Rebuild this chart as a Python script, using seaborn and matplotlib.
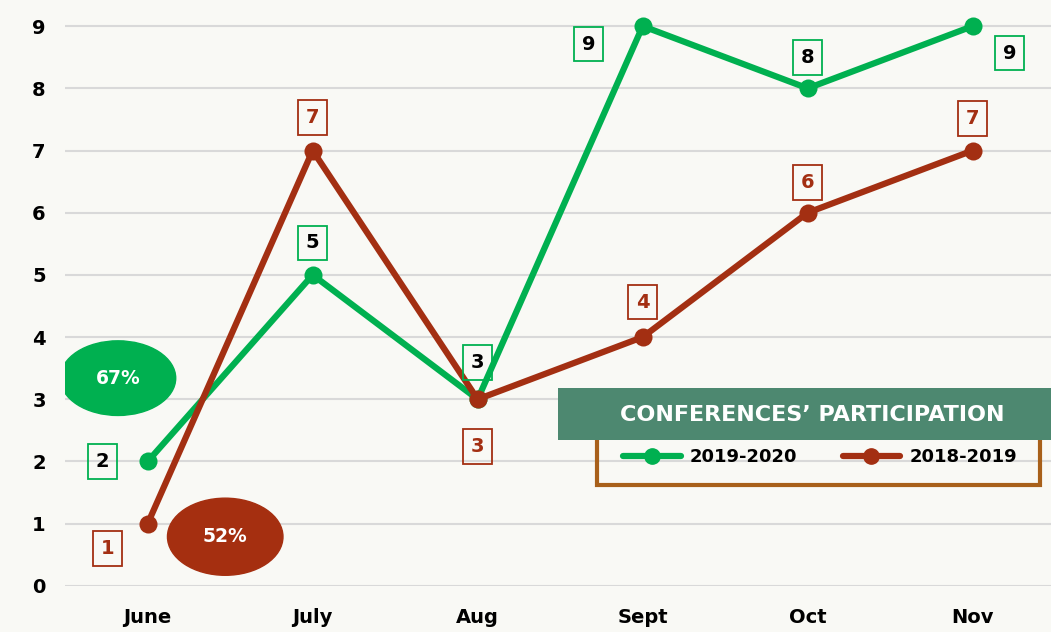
import pandas as pd
import matplotlib.pyplot as plt
from matplotlib.patches import Ellipse, Rectangle
import seaborn as sns

months = ["June", "July", "Aug", "Sept", "Oct", "Nov"]
season_new = [2, 5, 3, 9, 8, 9]   # 2019-2020
season_old = [1, 7, 3, 4, 6, 7]   # 2018-2019
labels = ["2019-2020", "2018-2019"]
pct_new = "67%"
pct_old = "52%"

green = "#00b050"
brown = "#a32f12"
band = "#4d8870"
frame = "#a8601a"
bg = "#f9f9f5"

df = pd.DataFrame({
    "month": months * 2,
    "count": season_new + season_old,
    "season": [labels[0]] * len(months) + [labels[1]] * len(months),
})

sns.set_theme(style="white")
plt.rcParams["font.family"] = ["DejaVu Sans"]

fig = plt.figure(figsize=(10.51, 6.32), dpi=100, facecolor=bg)
ax = fig.add_axes([0.062, 0.073, 0.942, 0.925])
ax.set_facecolor(bg)

sns.lineplot(data=df, x="month", y="count", hue="season", hue_order=labels,
             palette=[green, brown], marker="o", markersize=13,
             markeredgewidth=0, linewidth=4.5, sort=False, ax=ax)

ax.set_xlim(-0.5, 5.5)
ax.set_ylim(0, 9.4)
ax.set_yticks(range(0, 10))
ax.yaxis.grid(True, color="#d9d9d9", linewidth=1.5)
ax.set_axisbelow(True)
for s in ax.spines.values():
    s.set_visible(False)
ax.tick_params(length=0, labelsize=14)
ax.tick_params(axis="x", pad=16)
ax.tick_params(axis="y", pad=14)
for t in ax.get_xticklabels() + ax.get_yticklabels():
    t.set_fontweight("bold")
    t.set_color("black")
ax.set_xlabel("")
ax.set_ylabel("")
ax.get_legend().remove()

# value labels, offsets in pixels
off_new = [(-45, 0), (0, 32), (0, 37), (-54, -18), (0, 31), (37, -27)]
off_old = [(-40, -25), (0, 33), (0, -47), (0, 35), (0, 30), (0, 32)]
for i, m in enumerate(months):
    ax.annotate(str(season_new[i]), (i, season_new[i]), xytext=off_new[i],
                textcoords="offset pixels", ha="center", va="center",
                fontsize=14, fontweight="bold", color="black",
                bbox=dict(boxstyle="square,pad=0.4", fc="none", ec=green, lw=1.3))
    ax.annotate(str(season_old[i]), (i, season_old[i]), xytext=off_old[i],
                textcoords="offset pixels", ha="center", va="center",
                fontsize=14, fontweight="bold", color=brown,
                bbox=dict(boxstyle="square,pad=0.4", fc="none", ec=brown, lw=1.3))

# percentage bubbles
ax.add_patch(Ellipse((-0.18, 3.34), 0.70, 1.2, color=green, zorder=3))
ax.text(-0.18, 3.34, pct_new, ha="center", va="center", color="white",
        fontsize=13.5, fontweight="bold", zorder=4)
ax.add_patch(Ellipse((0.47, 0.79), 0.70, 1.24, color="#a52f10", zorder=3))
ax.text(0.47, 0.79, pct_old, ha="center", va="center", color="white",
        fontsize=13.5, fontweight="bold", zorder=4)

# legend frame + title band
W, H = 1051, 632
fig.add_artist(Rectangle((597 / W, 1 - 485 / H), 443 / W, 60 / H,
                         transform=fig.transFigure, fc="none", ec=frame, lw=3, zorder=5))
fig.add_artist(Rectangle((558 / W, 1 - 440 / H), 493 / W, 52 / H,
                         transform=fig.transFigure, fc=band, ec="none", zorder=6))
fig.text(812 / W, 1 - 415 / H, "CONFERENCES’ PARTICIPATION", ha="center",
         va="center", color="white", fontsize=16, fontweight="bold", zorder=7)

handles = [plt.Line2D([], [], color=c, lw=4.5, marker="o", markersize=11)
           for c in [green, brown]]
leg = fig.legend(handles, labels, loc="center", bbox_to_anchor=(820 / W, 1 - 457 / H),
                 ncol=2, frameon=False, handlelength=3.2, columnspacing=2.5,
                 handletextpad=0.5, labelcolor="black",
                 prop={"weight": "bold", "size": 13})

fig.savefig("out.png", dpi=100, facecolor=bg)
